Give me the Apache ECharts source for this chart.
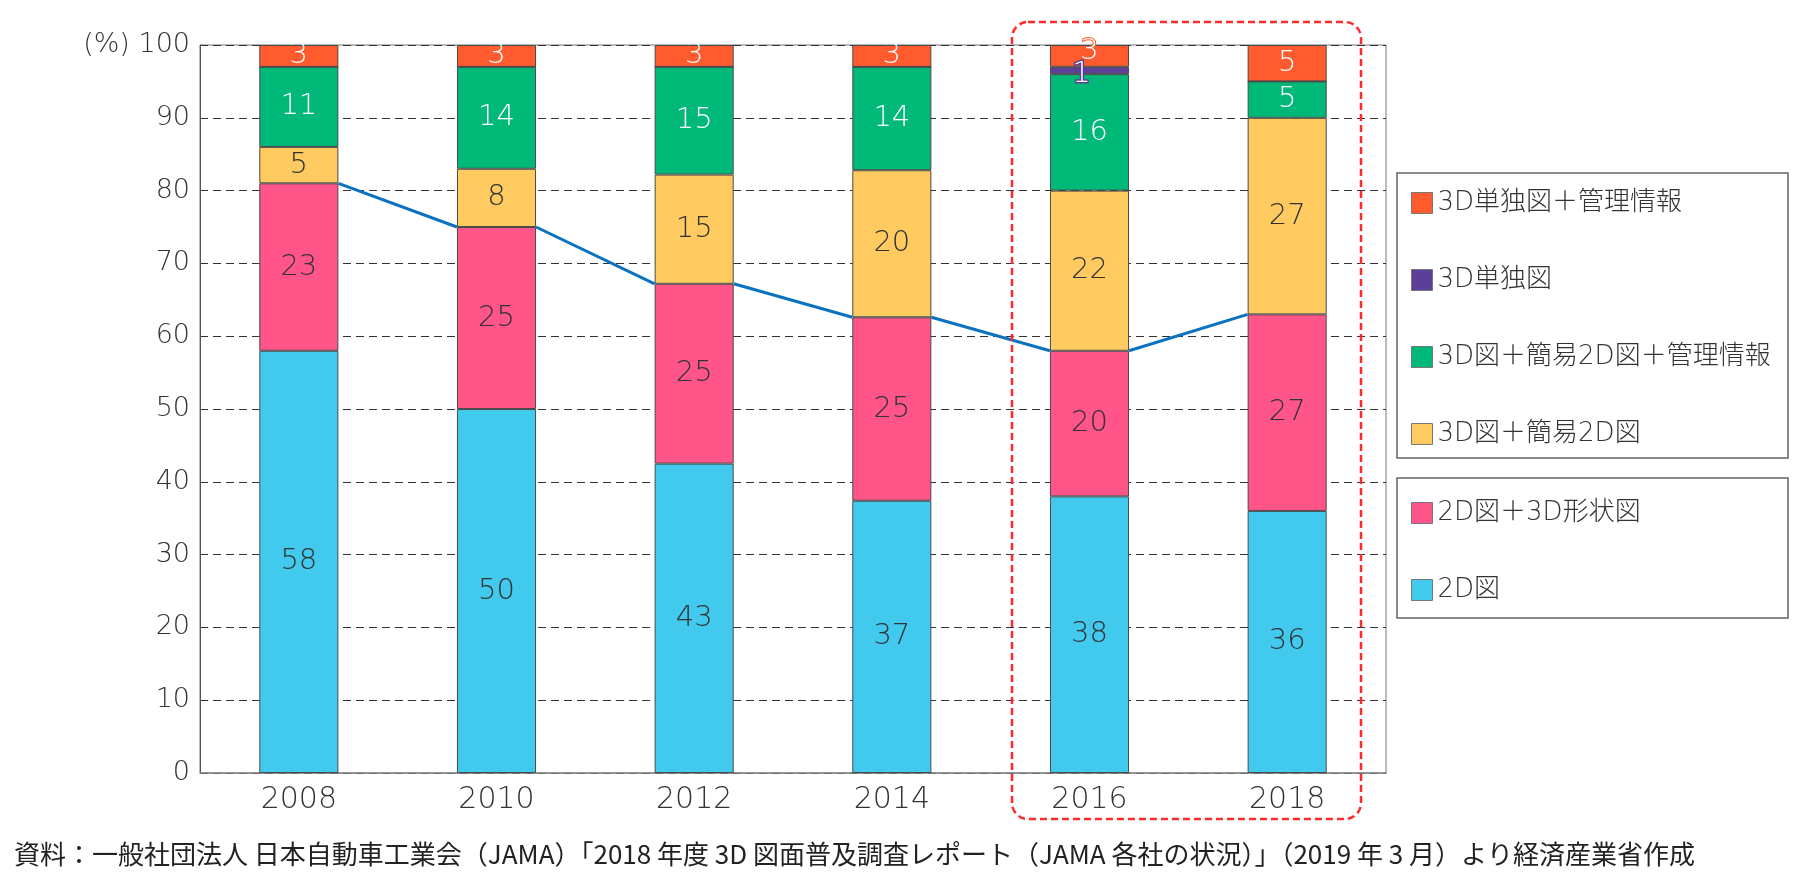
<!DOCTYPE html>
<html><head><meta charset="utf-8">
<script src="https://cdn.jsdelivr.net/npm/echarts@6/dist/echarts.min.js"></script>
<style>html,body{margin:0;padding:0;background:#fff}#c{width:1800px;height:880px}</style>
</head><body><div id="c"></div>
<script>
const years = ['2008','2010','2012','2014','2016','2018'];
const s2D       = [58, 50, 42.5, 37.4, 38, 36];
const s2D3D     = [23, 25, 24.7, 25.2, 20, 27];
const s3DEasy   = [5, 8, 15, 20.2, 22, 27];
const s3DEasyM  = [11, 14, 14.8, 14.2, 16, 5];
const s3DOnly   = [0, 0, 0, 0, 1, 0];
const s3DOnlyM  = [3, 3, 3, 3, 3, 5];
const lineValues = [81, 75, 67.2, 62.6, 58, 63];
const yTicks = [0,10,20,30,40,50,60,70,80,90,100];

const FONT = '"DejaVu Sans", "Noto Sans CJK JP", sans-serif';
const CJK = '"Noto Sans CJK JP", "Noto Sans", sans-serif';
const names = ['2D図','2D図＋3D形状図','3D図＋簡易2D図','3D図＋簡易2D図＋管理情報','3D単独図','3D単独図＋管理情報'];
const colors = ['#41C9EE','#FF5588','#FFCA5F','#00B877','#5B3F98','#FF5B2E'];
const labelColors = ['#333','#333','#333','#fff','#fff','#fff'];
const datasets = [s2D, s2D3D, s3DEasy, s3DEasyM, s3DOnly, s3DOnlyM];

const barSeries = datasets.map((d, k) => ({
  type: 'bar', name: names[k], stack: 'a', barWidth: '40%',
  data: d.map((v, i) => {
    const o = { value: v };
    if (k === 5 && i === 4) o.label = { offset: [0, -4], textBorderColor: colors[5], textBorderWidth: 2 };
    if (k === 4 && i === 4) o.label = { offset: [-8, 4], textBorderColor: colors[4], textBorderWidth: 3 };
    return o;
  }),
  itemStyle: { color: colors[k], borderColor: '#4a4a4a', borderWidth: 1 },
  label: {
    show: true, position: 'inside', color: labelColors[k], fontSize: 29, fontFamily: FONT, fontWeight: 200,
    formatter: p => p.value ? String(Math.round(p.value)) : ''
  },
  emphasis: { disabled: true }
}));

const lineSeries = {
  type: 'custom', name: 'line', z: 1, silent: true,
  data: lineValues.map((v, i) => [i, v]),
  renderItem(params, api) {
    const i = api.value(0);
    if (i >= lineValues.length - 1) return null;
    const p1 = api.coord([i, api.value(1)]);
    const p2 = api.coord([i + 1, lineValues[i + 1]]);
    const hw = api.size([1, 0])[0] * 0.4 / 2;
    return { type: 'line', shape: { x1: p1[0] + hw, y1: p1[1], x2: p2[0] - hw, y2: p2[1] },
      style: { stroke: '#0B72C0', lineWidth: 3 } };
  }
};

const legendCommon = {
  orient: 'vertical', itemWidth: 21, itemHeight: 21, itemGap: 51, padding: 0,
  icon: 'rect', selectedMode: false,
  textStyle: { fontSize: 26, fontFamily: FONT, fontWeight: 200, color: '#333', lineHeight: 21, padding: [0, 0, 0, 0] },
  itemStyle: { borderColor: '#777', borderWidth: 1 }
};

const chart = echarts.init(document.getElementById('c'));
chart.setOption({
  animation: false,
  backgroundColor: '#fff',
  grid: { left: 200, right: 414, top: 45, bottom: 107, show: true, borderColor: '#777', borderWidth: 1 },
  xAxis: {
    type: 'category', data: years,
    axisLine: { lineStyle: { color: '#888', width: 1.5 } }, axisTick: { show: false },
    axisLabel: { fontSize: 30, color: '#333', fontFamily: FONT, fontWeight: 200, margin: 12 }
  },
  yAxis: {
    type: 'value', min: 0, max: 100, interval: 10,
    axisLine: { show: true, lineStyle: { color: '#555' } }, axisTick: { show: false },
    axisLabel: { fontSize: 27, color: '#333', fontFamily: FONT, fontWeight: 200, margin: 10,
      formatter: v => v === 100 ? '(%) 100' : String(v) },
    splitLine: { lineStyle: { color: '#333', type: [8, 5], width: 1 } }
  },
  legend: [
    Object.assign({}, legendCommon, { left: 1411, top: 190, data: [names[5], names[4], names[3], names[2]] }),
    Object.assign({}, legendCommon, { left: 1411, top: 500, data: [names[1], names[0]] })
  ],
  graphic: [
    { type: 'rect', shape: { x: 1397, y: 173, width: 391, height: 285 }, style: { fill: 'none', stroke: '#666', lineWidth: 1.5 }, silent: true },
    { type: 'rect', shape: { x: 1397, y: 478, width: 391, height: 140 }, style: { fill: 'none', stroke: '#666', lineWidth: 1.5 }, silent: true },
    { type: 'rect', shape: { x: 1012, y: 22, width: 349, height: 797, r: 16 }, z: 100,
      style: { fill: 'none', stroke: '#FF2A2A', lineWidth: 2.5, lineDash: [7, 4] }, silent: true },
    { type: 'text', left: 14, top: 841, silent: true,
      style: { text: '資料：一般社団法人 日本自動車工業会（JAMA）「2018 年度 3D 図面普及調査レポート（JAMA 各社の状況）」（2019 年 3 月）より経済産業省作成',
        font: '26px ' + CJK, fill: '#222' } }
  ],
  series: [...barSeries, lineSeries]
});
</script></body></html>
